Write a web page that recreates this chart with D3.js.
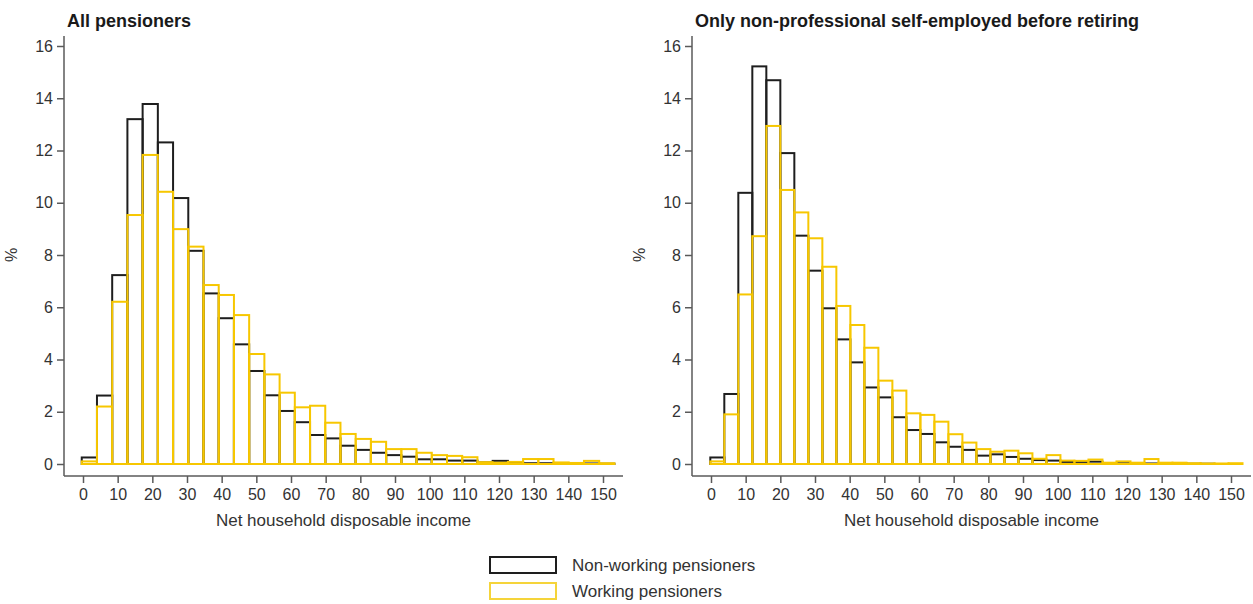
<!DOCTYPE html>
<html>
<head>
<meta charset="utf-8" />
<script src="https://cdnjs.cloudflare.com/ajax/libs/d3/7.8.5/d3.min.js"></script>
<style>
body { margin: 0; background: #fff; }
text { font-family: "Liberation Sans", Arial, sans-serif; fill: #333; }
.axis path, .axis line { stroke: #5a5a5a; stroke-width: 1.5; }
.axis text { font-size: 16px; fill: #333; }
</style>
</head>
<body>
<svg id="chart" width="1253" height="604"></svg>
<script>
// histogram bins (income, thousands)
var leftStart = -0.36, leftWidth = 4.39;
var rightStart = -0.2, rightWidth = 4.04;

// all pensioners, % per bin
var allNonWorking = [0.25, 2.62, 7.23, 13.2, 13.78, 12.31, 10.18, 8.16, 6.53, 5.58,
  4.58, 3.56, 2.63, 2.03, 1.6, 1.11, 0.98, 0.7, 0.54, 0.43,
  0.34, 0.28, 0.18, 0.18, 0.13, 0.13, 0.06, 0.12, 0.07, 0.03,
  0.03, 0.02, 0.02, 0.02, 0.01];
var allWorking = [0.1, 2.2, 6.21, 9.53, 11.83, 10.42, 8.99, 8.32, 6.85, 6.47,
  5.7, 4.21, 3.43, 2.73, 2.17, 2.23, 1.58, 1.15, 0.96, 0.85,
  0.57, 0.57, 0.43, 0.34, 0.31, 0.26, 0.07, 0.05, 0.08, 0.19,
  0.19, 0.06, 0.04, 0.12, 0.03];

// non-professional self-employed before retiring
var selfNonWorking = [0.25, 2.68, 10.38, 15.22, 14.69, 11.9, 8.74, 7.4, 5.96, 4.77,
  3.89, 2.93, 2.55, 1.79, 1.3, 1.15, 0.83, 0.66, 0.54, 0.32,
  0.37, 0.27, 0.2, 0.15, 0.13, 0.08, 0.08, 0.09, 0.02, 0.03,
  0.02, 0.02, 0.01, 0.02, 0.01, 0.01, 0, 0];
var selfWorking = [0.1, 1.9, 6.49, 8.72, 12.94, 10.49, 9.63, 8.64, 7.55, 6.05,
  5.32, 4.45, 3.19, 2.81, 1.94, 1.88, 1.62, 1.14, 0.82, 0.57,
  0.47, 0.51, 0.41, 0.2, 0.34, 0.13, 0.12, 0.17, 0.05, 0.1,
  0.05, 0.19, 0.05, 0.05, 0.03, 0.02, 0.02, 0.03];

var xTicks = d3.range(0, 151, 10);
var yTicks = d3.range(0, 17, 2);
var seriesNames = ["Non-working pensioners", "Working pensioners"];
var black = "#1e1e1e", yellow = "#f7c700";

var svg = d3.select("#chart");

function drawPanel(left, title, start, width, nonWorking, working) {
  var g = svg.append("g");
  var axisX = left, x0 = left + 19, x150 = left + 539;
  var x = d3.scaleLinear().domain([0, 150]).range([x0, x150]);
  var y = d3.scaleLinear().domain([0, 16]).range([464, 46]);

  // axis lines
  g.append("line").attr("x1", axisX).attr("x2", axisX).attr("y1", 36).attr("y2", 476)
    .attr("stroke", "#5a5a5a").attr("stroke-width", 1.5);
  g.append("line").attr("x1", axisX).attr("x2", left + 559).attr("y1", 476).attr("y2", 476)
    .attr("stroke", "#5a5a5a").attr("stroke-width", 1.5);

  var ya = g.append("g").attr("class", "axis").attr("transform", "translate(" + axisX + ",0)")
    .call(d3.axisLeft(y).tickValues(yTicks).tickSize(7).tickPadding(4));
  ya.select(".domain").remove();

  var xa = g.append("g").attr("class", "axis").attr("transform", "translate(0,476)")
    .call(d3.axisBottom(x).tickValues(xTicks).tickSize(7).tickPadding(6));
  xa.select(".domain").remove();

  g.append("text").attr("x", 0).attr("y", 0)
    .attr("transform", "translate(" + (left - 47) + ",255) rotate(-90)")
    .attr("text-anchor", "middle").style("font-size", "16px").text("%");

  g.append("text").attr("x", (axisX + left + 559) / 2).attr("y", 526)
    .attr("text-anchor", "middle").style("font-size", "17px")
    .text("Net household disposable income");

  g.append("text").attr("x", left + 3).attr("y", 27)
    .style("font-size", "18px").style("font-weight", "bold").style("fill", "#1a1a1a")
    .text(title);

  function bars(vals, colour) {
    g.append("g").selectAll("rect").data(vals).join("rect")
      .attr("x", function(d, i) { return x(start + i * width); })
      .attr("width", function(d, i) { return x(start + (i + 1) * width) - x(start + i * width); })
      .attr("y", function(d) { return y(d); })
      .attr("height", function(d) { return y(0) - y(d); })
      .attr("fill", "none").attr("stroke", colour).attr("stroke-width", 2);
  }
  bars(nonWorking, black);
  bars(working, yellow);
}

drawPanel(64, "All pensioners", leftStart, leftWidth, allNonWorking, allWorking);
drawPanel(692, "Only non-professional self-employed before retiring", rightStart, rightWidth, selfNonWorking, selfWorking);

// legend
var lg = svg.append("g");
lg.selectAll("rect").data(seriesNames).join("rect")
  .attr("x", 490).attr("y", function(d, i) { return 557 + i * 26; })
  .attr("width", 66).attr("height", 16)
  .attr("fill", "none").attr("stroke-width", 2)
  .attr("stroke", function(d, i) { return i == 0 ? black : "#f5d43a"; });
lg.selectAll("text").data(seriesNames).join("text")
  .attr("x", 572).attr("y", function(d, i) { return 571 + i * 26; })
  .style("font-size", "17px").text(function(d) { return d; });
</script>
</body>
</html>
